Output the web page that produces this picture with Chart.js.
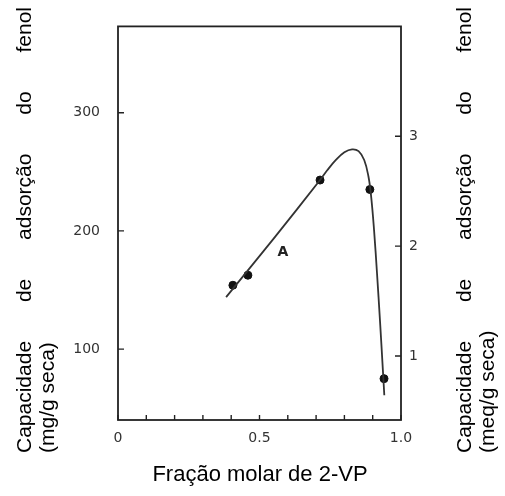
<!DOCTYPE html>
<html>
<head>
<meta charset="utf-8">
<script src="https://cdn.jsdelivr.net/npm/chart.js@4.4.1/dist/chart.umd.min.js"></script>
<style>
  body { margin: 0; background: #fff; }
  #wrap { position: relative; width: 505px; height: 496px; }
  canvas { position: absolute; left: 0; top: 0; }
  .ytitle {
    position: absolute; width: 446px; transform-origin: 0 0; transform: rotate(-90deg);
    font-family: 'Liberation Sans', Arial, sans-serif; font-size: 21px; line-height: 23px; color: #000;
  }
  .ytitle .l1 { text-align: justify; text-align-last: justify; white-space: nowrap; }
  .xtitle {
    position: absolute; left: 0; width: 520px; top: 461px; text-align: center;
    font-family: 'Liberation Sans', Arial, sans-serif; font-size: 22px; color: #000;
  }
</style>
</head>
<body>
<div id="wrap">
  <canvas id="chart" width="505" height="496"></canvas>
  <div class="ytitle" style="left:12px; top:453px;">
    <div class="l1">Capacidade de adsorção do fenol</div>
    <div>(mg/g seca)</div>
  </div>
  <div class="ytitle" style="left:452px; top:453px;">
    <div class="l1">Capacidade de adsorção do fenol</div>
    <div>(meq/g seca)</div>
  </div>
  <div class="xtitle">Fração molar de 2-VP</div>
</div>
<script>
// measured points (fração molar, mg/g)
const pointX = [0.406, 0.459, 0.714, 0.890, 0.940];
const pointY = [154, 162.5, 243, 235, 75];

// fitted curve "A"
const curveX = [0.382, 0.55, 0.714, 0.74, 0.77, 0.80, 0.827, 0.85, 0.87, 0.885, 0.895, 0.905, 0.915, 0.926, 0.936, 0.941];
const curveY = [144, 193.5, 243, 251.5, 260, 266.5, 269, 267.5, 260, 246, 228, 200, 165, 123, 82, 61];

const xTicks = [0, 0.1, 0.2, 0.3, 0.4, 0.5, 0.6, 0.7, 0.8, 0.9, 1.0];
const xLabels = { 0: '0', 0.5: '0.5', 1: '1.0' };
const leftTicks = [100, 200, 300];
const rightTicks = [1, 2, 3];

const curveLabel = { text: 'A', x: 0.583, y: 182 };

const toXY = (xs, ys) => xs.map((x, i) => ({ x: x, y: ys[i] }));

const frame = {
  id: 'frame',
  afterDraw(chart) {
    const ctx = chart.ctx;
    const a = chart.chartArea;
    const sx = chart.scales.x, sy = chart.scales.y, sy2 = chart.scales.y2;
    ctx.save();
    ctx.strokeStyle = '#222';
    ctx.lineWidth = 1.8;
    ctx.strokeRect(a.left, a.top, a.right - a.left, a.bottom - a.top);
    ctx.lineWidth = 1.4;
    ctx.beginPath();
    xTicks.forEach(v => {
      const px = sx.getPixelForValue(v);
      ctx.moveTo(px, a.bottom);
      ctx.lineTo(px, a.bottom - 5);
    });
    leftTicks.forEach(v => {
      const py = sy.getPixelForValue(v);
      ctx.moveTo(a.left, py);
      ctx.lineTo(a.left + 6, py);
    });
    rightTicks.forEach(v => {
      const py = sy2.getPixelForValue(v);
      ctx.moveTo(a.right, py);
      ctx.lineTo(a.right - 6, py);
    });
    ctx.stroke();
    ctx.fillStyle = '#222';
    ctx.font = 'bold 14px "DejaVu Sans", sans-serif';
    ctx.textAlign = 'center';
    ctx.textBaseline = 'middle';
    ctx.fillText(curveLabel.text, sx.getPixelForValue(curveLabel.x), sy.getPixelForValue(curveLabel.y));
    ctx.restore();
  }
};

const tickFont = { family: '"DejaVu Sans", sans-serif', size: 14 };

new Chart(document.getElementById('chart'), {
  type: 'scatter',
  data: {
    datasets: [
      {
        type: 'line',
        data: toXY(curveX, curveY),
        borderColor: '#333',
        borderWidth: 1.8,
        pointRadius: 0,
        tension: 0.4,
        fill: false,
        yAxisID: 'y'
      },
      {
        data: toXY(pointX, pointY),
        backgroundColor: '#111',
        borderColor: '#111',
        pointRadius: 4,
        yAxisID: 'y'
      }
    ]
  },
  options: {
    responsive: false,
    animation: false,
    devicePixelRatio: 1,
    layout: { padding: { top: 20, left: 0, right: 0, bottom: 0 } },
    plugins: { legend: { display: false }, tooltip: { enabled: false } },
    scales: {
      x: {
        type: 'linear', min: 0, max: 1.0,
        afterFit(s) { s.height = 76; },
        afterBuildTicks(s) { s.ticks = xTicks.map(v => ({ value: v })); },
        grid: { display: false, drawTicks: false },
        border: { display: false },
        ticks: {
          padding: 10, color: '#333', font: tickFont, maxRotation: 0, autoSkip: false,
          callback: v => xLabels[Math.round(v * 10) / 10] ?? ''
        }
      },
      y: {
        type: 'linear', position: 'left', min: 40, max: 373,
        afterFit(s) { s.width = 118; },
        afterBuildTicks(s) { s.ticks = leftTicks.map(v => ({ value: v })); },
        grid: { display: false, drawTicks: false },
        border: { display: false },
        ticks: { padding: 18, color: '#333', font: tickFont }
      },
      y2: {
        type: 'linear', position: 'right', min: 0.417, max: 4.0,
        afterFit(s) { s.width = 104; },
        afterBuildTicks(s) { s.ticks = rightTicks.map(v => ({ value: v })); },
        grid: { display: false, drawTicks: false },
        border: { display: false },
        ticks: { padding: 8, color: '#333', font: tickFont }
      }
    }
  },
  plugins: [frame]
});
</script>
</body>
</html>
